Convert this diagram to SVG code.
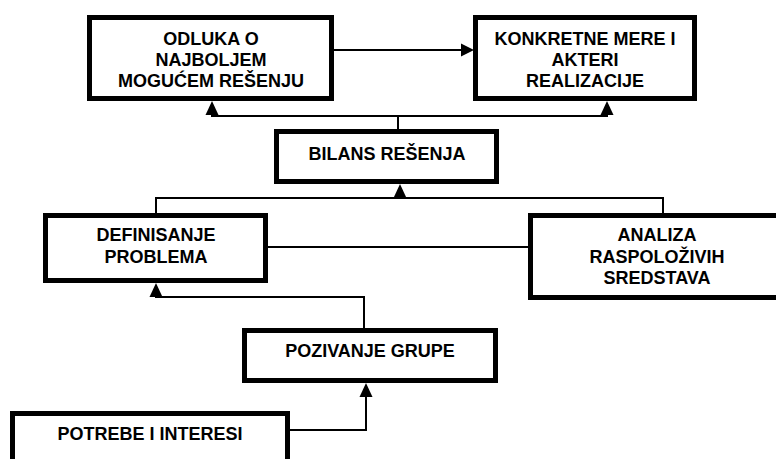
<svg xmlns="http://www.w3.org/2000/svg" width="776" height="459" viewBox="0 0 776 459">
<style>
.box{fill:#fff;stroke:#000;stroke-width:5}
.t{font-family:"Liberation Sans",Arial,sans-serif;font-weight:bold;font-size:18px;fill:#000;text-anchor:middle}
.c{fill:none;stroke:#000;stroke-width:2}
.ah{fill:#000;stroke:none}
</style>
<rect width="776" height="459" fill="#fff"/>
<g id="connectors">
<line class="c" x1="334" y1="50" x2="462" y2="50"/>
<polygon class="ah" points="474,50 461,43.5 461,56.5"/>
<polyline class="c" points="212,114 212,116 607,116 607,114"/>
<line class="c" x1="398" y1="116" x2="398" y2="129"/>
<polygon class="ah" points="212,101 205.5,115 218.5,115"/>
<polygon class="ah" points="607,101 600.5,115 613.5,115"/>
<polyline class="c" points="156,213 156,198 663,198 663,213"/>
<line class="c" x1="400" y1="198" x2="400" y2="196"/>
<polygon class="ah" points="400,184 393.5,198 406.5,198"/>
<line class="c" x1="268" y1="247" x2="528" y2="247"/>
<polyline class="c" points="364,328 364,297 156,297 156,295"/>
<polygon class="ah" points="156,283 149.5,297 162.5,297"/>
<polyline class="c" points="290,430 366,430 366,395"/>
<polygon class="ah" points="366,383 359.5,397 372.5,397"/>
</g>
<g id="odluka">
<rect class="box" x="89.5" y="17.5" width="242" height="81"/>
<text class="t" x="211" y="44.5">ODLUKA O</text>
<text class="t" x="211" y="65.5">NAJBOLJEM</text>
<text class="t" x="211" y="87">MOGUĆEM REŠENJU</text>
</g>
<g id="konkretne">
<rect class="box" x="475.5" y="17.5" width="219" height="81"/>
<text class="t" x="585" y="44.5">KONKRETNE MERE I</text>
<text class="t" x="585" y="65.5">AKTERI</text>
<text class="t" x="585" y="86.5">REALIZACIJE</text>
</g>
<g id="bilans">
<rect class="box" x="276.5" y="131.5" width="220" height="50"/>
<text class="t" x="387" y="159.5">BILANS REŠENJA</text>
</g>
<g id="definisanje">
<rect class="box" x="45.5" y="215.5" width="220" height="65"/>
<text class="t" x="156" y="241">DEFINISANJE</text>
<text class="t" x="156" y="263">PROBLEMA</text>
</g>
<g id="analiza">
<rect class="box" x="530.5" y="215.5" width="260" height="82"/>
<text class="t" x="657" y="241">ANALIZA</text>
<text class="t" x="657" y="262.5">RASPOLOŽIVIH</text>
<text class="t" x="657" y="284">SREDSTAVA</text>
</g>
<g id="pozivanje">
<rect class="box" x="244.5" y="330.5" width="251" height="50"/>
<text class="t" x="370" y="357">POZIVANJE GRUPE</text>
</g>
<g id="potrebe">
<rect class="box" x="12.5" y="413.5" width="275" height="80"/>
<text class="t" x="150" y="440">POTREBE I INTERESI</text>
</g>
</svg>
